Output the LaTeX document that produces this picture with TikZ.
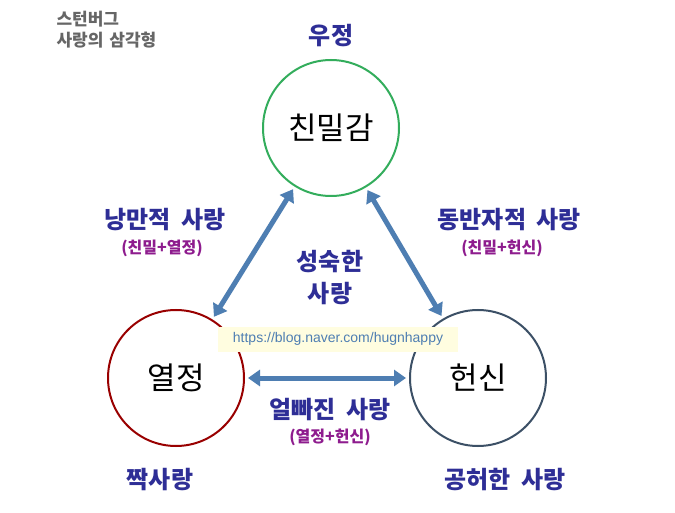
\documentclass[tikz,border=0pt]{standalone}
\usepackage{fontspec}
\newfontfamily\kr{Noto Sans CJK KR}
\setsansfont{Liberation Sans}
\usetikzlibrary{arrows.meta}
\definecolor{dblue}{HTML}{2E2E96}
\definecolor{purp}{HTML}{8E1C8E}
\definecolor{arr}{HTML}{4E7EB2}
\definecolor{slate}{HTML}{3C5066}
\newcommand{\wsp}{\hspace{10pt}}
\tikzset{
 circ/.style={draw, line width=2pt, minimum size=136pt, circle, inner sep=0pt, font=\kr\fontsize{31}{33}\selectfont},
 lbl/.style={text=dblue, font=\kr\bfseries\fontsize{24}{28}\selectfont, align=center},
 sub/.style={text=purp, font=\kr\bfseries\fontsize{16}{18}\selectfont},
 conn/.style={draw=arr, line width=5pt, shorten <=3pt, shorten >=3pt, {Triangle[length=12pt,width=16pt]}-{Triangle[length=12pt,width=16pt]}}
}
\begin{document}
\begin{tikzpicture}[x=1pt,y=-1pt]
\useasboundingbox[fill=white] (0,0) rectangle (675,513);
\node[circ, draw=green!50!teal!80!black!80] (top) at (331,128) {친밀감};
\node[circ, draw=red!60!black] (left) at (176,378) {열정};
\node[circ, draw=slate] (right) at (478,378) {헌신};
\node[anchor=north west, text=black!60, font=\kr\bfseries\fontsize{17}{21}\selectfont, align=left] (title) at (53,8) {스턴버그\\사랑의\hspace{6pt}삼각형};
\node[lbl] (ujeong) at (331,36) {우정};
\node[fill=yellow!12, minimum width=240pt, minimum height=25pt, text=arr, font=\fontsize{14}{16}\selectfont\sffamily] (url) at (338,339) {https://blog.naver.com/hugnhappy};
\draw[conn] (top) -- (left);
\draw[conn] (top) -- (right);
\draw[conn] (left) -- (right);
\node[lbl] (rom) at (165,220) {낭만적\wsp 사랑};
\node[sub] (romsub) at (162,248) {(친밀+열정)};
\node[lbl] (com) at (509,220) {동반자적\wsp 사랑};
\node[sub] (comsub) at (502,248) {(친밀+헌신)};
\node[lbl, font=\kr\bfseries\fontsize{24}{32}\selectfont] (mat) at (330,278) {성숙한\\사랑};
\node[lbl] (fat) at (330,410) {얼빠진\wsp 사랑};
\node[sub] (fatsub) at (330,437) {(열정+헌신)};
\node[lbl] (inf) at (160,480) {짝사랑};
\node[lbl] (emp) at (505,480) {공허한\wsp 사랑};
\end{tikzpicture}
\end{document}
